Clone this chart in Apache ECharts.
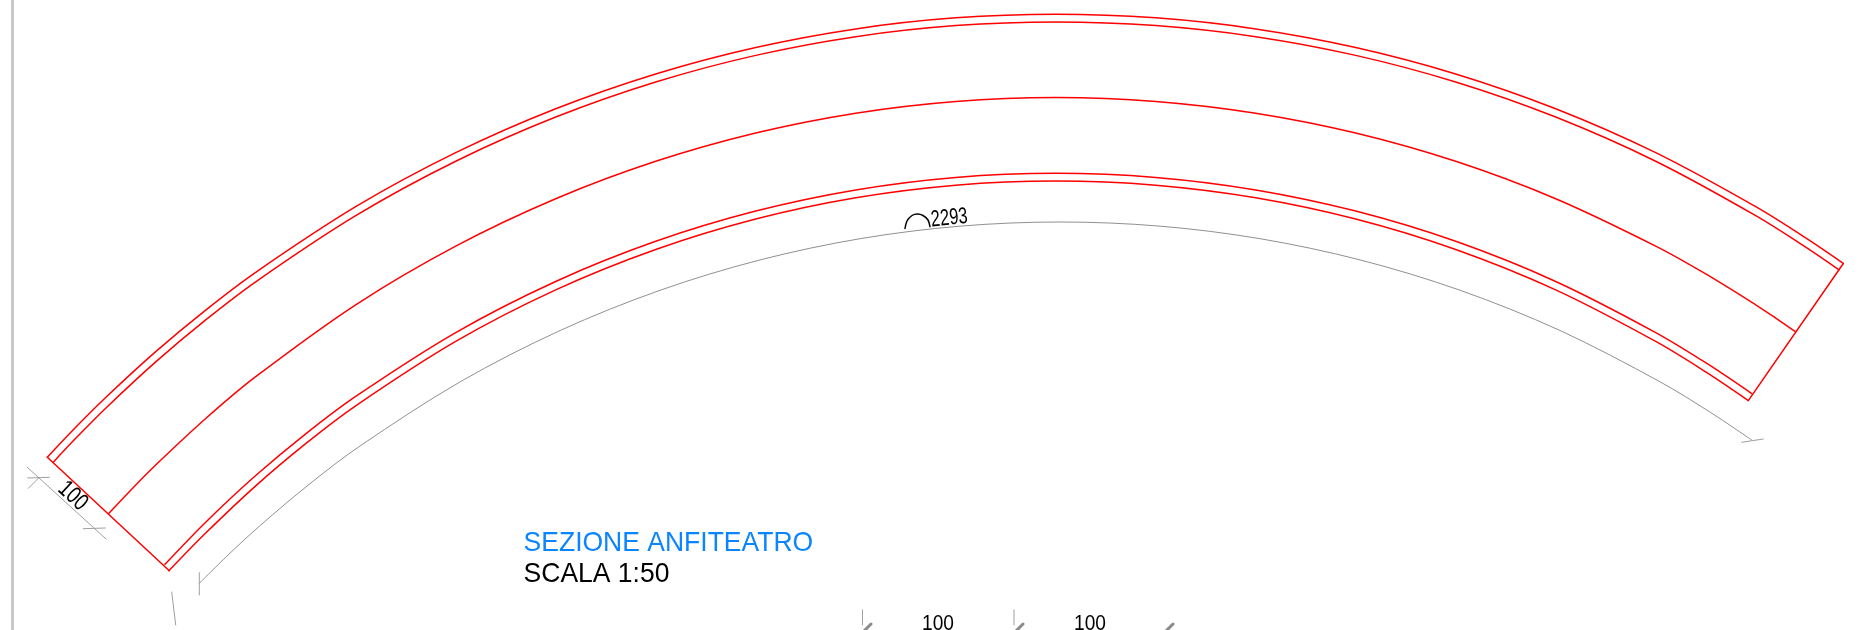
<!DOCTYPE html>
<html><head><meta charset="utf-8">
<style>html,body{margin:0;padding:0;background:#fff}#c{width:1874px;height:630px}</style>
<script src="https://cdn.jsdelivr.net/npm/echarts@6/dist/echarts.min.js"></script>
</head><body><div id="c"></div>
<script>
// Curves: [x, y] in picture units
const outerTop = [[47.3,457.3],[75.7,427.29],[105.7,397.48],[155.7,351.62],[205.7,310.04],[255.7,272.27],[355.7,206.7],[455.7,152.69],[555.7,108.77],[655.7,73.94],[755.7,47.48],[855.7,28.89],[955.7,17.86],[1055.7,14.2],[1155.7,17.86],[1255.7,28.89],[1355.7,47.48],[1455.7,73.94],[1555.7,108.77],[1655.7,152.69],[1755.7,206.7],[1805.7,237.92],[1843.3,263.45]];
const innerTop = [[53.3,462.15],[75.7,438.35],[105.7,408.19],[155.7,361.86],[205.7,319.87],[255.7,281.77],[355.7,215.66],[455.7,161.26],[555.7,117.05],[655.7,81.99],[755.7,55.37],[855.7,36.67],[955.7,25.58],[1055.7,21.9],[1155.7,25.58],[1255.7,36.67],[1355.7,55.37],[1455.7,81.99],[1555.7,117.05],[1655.7,161.26],[1755.7,215.66],[1805.7,247.14],[1839,269.83]];
const middle = [[108.7,513.59],[130.7,490.23],[155.7,465.04],[205.7,418.56],[255.7,376.71],[355.7,304.76],[455.7,246.09],[555.7,198.71],[655.7,161.31],[755.7,132.99],[855.7,113.15],[955.7,101.4],[1055.7,97.5],[1155.7,101.4],[1255.7,113.15],[1355.7,132.99],[1455.7,161.31],[1555.7,198.71],[1655.7,246.09],[1705.7,273.91],[1755.7,304.76],[1775.7,318.01],[1795,331.32]];
const lowerUpper = [[165,564.35],[205.7,522.18],[255.7,475.53],[305.7,433.8],[355.7,396.36],[455.7,332.55],[555.7,281.45],[655.7,241.33],[755.7,211.08],[855.7,189.94],[955.7,177.44],[1055.7,173.3],[1155.7,177.44],[1255.7,189.94],[1355.7,211.08],[1455.7,241.33],[1555.7,281.45],[1655.7,332.55],[1705.7,362.73],[1751.7,393.54]];
const lowerInner = [[169,570.6],[205.7,533.03],[255.7,485.82],[305.7,443.63],[355.7,405.81],[455.7,341.43],[555.7,289.91],[655.7,249.5],[755.7,219.03],[855.7,197.75],[955.7,185.17],[1055.7,181],[1155.7,185.17],[1255.7,197.75],[1355.7,219.03],[1455.7,249.5],[1555.7,289.91],[1655.7,341.43],[1705.7,371.87],[1748.3,400.56]];
const grayArc = [[199.3,583.33],[230.1,553.05],[260.1,525.54],[310.1,483.58],[360.1,445.94],[460.1,381.85],[560.1,330.53],[660.1,290.27],[760.1,259.91],[860.1,238.7],[960.1,226.15],[1060.1,222],[1160.1,226.15],[1260.1,238.7],[1360.1,259.91],[1460.1,290.27],[1560.1,330.53],[1660.1,381.85],[1710.1,412.16],[1751.7,440]];
const arcMark = [[905,228.5],[907,221],[912,215.5],[917.5,214],[923,215.5],[928,220],[930,226.7]];
// Straight edges
const redEdges = [
  [[47.3,457.3],[169.3,570.8]],
  [[1843.3,263.45],[1748.3,400.56]]
];
const grayEdges = [
  [[27.3,467.3],[106,539]],
  [[27.7,478],[49.3,477.3]],
  [[28.3,488.3],[39.3,477.3]],
  [[83.3,528.7],[105.3,528]],
  [[199.3,572.7],[199.3,595]],
  [[171.7,592],[175.7,625]],
  [[1741.7,442.3],[1763.3,439]],
  [[862.5,610],[862.5,625]],
  [[1014,610],[1014,625]]
];
const heavyTicks = [
  [[863,632],[871,624]],
  [[1015,632],[1023,624]],
  [[1165,632],[1173,624]]
];
const frameLine = [[12.5,0],[12.5,630]];
// Texts: [string, x, y]
const titleText = ['SEZIONE ANFITEATRO', 523.6, 543.5];
const scaleText = ['SCALA 1:50', 523.6, 574.5];
const radiusText = ['2293', 949.3, 218.3];
const sideDim = ['100', 72.7, 496];
const bottomDims = [['100', 938, 623.5], ['100', 1090, 623.5]];

const RED = '#ff0000', GRAY = '#a0a0a0', FONT = '"Liberation Sans", Arial, sans-serif';
const mkLine = (d, color, width, smooth) => ({
  type: 'line', data: d, showSymbol: false, symbol: 'none', smooth: smooth ? 0.33 : false, silent: true,
  clip: true, lineStyle: { color, width, cap: 'round', join: 'round' }, animation: false
});
const mkText = (d, o) => ({
  type: 'custom', data: [[d[1], d[2]]], silent: true, animation: false, clip: false,
  renderItem: (params, api) => {
    const p = api.coord([api.value(0), api.value(1)]);
    return {
      type: 'text', x: p[0], y: p[1], rotation: (o.rotate || 0) * Math.PI / 180,
      scaleX: o.sx || 1, scaleY: o.sy || 1,
      style: { text: d[0], fontFamily: FONT, fontSize: o.size, fill: o.color || '#000',
               align: o.align || 'center', verticalAlign: 'middle' }
    };
  }
});
const series = [
  mkLine(frameLine, '#c8c8c8', 3, false),
  mkLine(outerTop, RED, 1.5, true),
  mkLine(innerTop, RED, 1.5, true),
  mkLine(middle, RED, 1.5, true),
  mkLine(lowerUpper, RED, 1.5, true),
  mkLine(lowerInner, RED, 1.5, true),
  mkLine(grayArc, '#909090', 1, true),
  mkLine(arcMark, '#000', 1.5, true),
  ...redEdges.map(e => mkLine(e, RED, 1.5, false)),
  ...grayEdges.map(e => mkLine(e, GRAY, 1, false)),
  ...heavyTicks.map(e => mkLine(e, '#8a8a8a', 3, false)),
  mkText(titleText, { size: 26.5, sy: 1.06, color: '#0a84ff', align: 'left' }),
  mkText(scaleText, { size: 26.5, sy: 1.06, align: 'left' }),
  mkText(radiusText, { size: 23, sx: 0.72, rotate: 5.5 }),
  mkText(sideDim, { size: 24, sx: 0.78, rotate: -42.7 }),
  ...bottomDims.map(d => mkText(d, { size: 22, sx: 0.87 }))
];
const chart = echarts.init(document.getElementById('c'), null, { renderer: 'canvas' });
chart.setOption({
  backgroundColor: '#fff', animation: false,
  grid: { left: 0, right: 0, top: 0, bottom: 0, containLabel: false },
  xAxis: { type: 'value', min: 0, max: 1874, show: false },
  yAxis: { type: 'value', min: 0, max: 630, inverse: true, show: false },
  series
});
</script></body></html>
